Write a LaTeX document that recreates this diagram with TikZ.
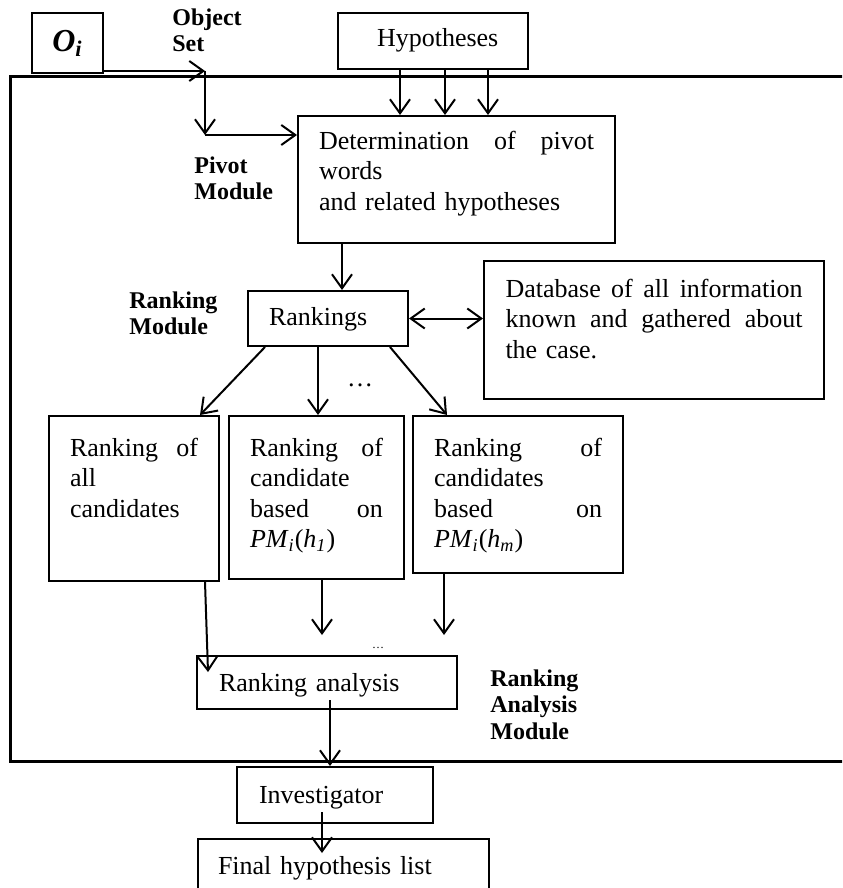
\documentclass[tikz,border=0pt]{standalone}
\usepackage{fontspec}
\setmainfont{Liberation Serif}
\usetikzlibrary{arrows.meta}

\begin{document}
\begin{tikzpicture}[x=0.5pt,y=-0.5pt,
  box/.style={draw,line width=1pt,anchor=north west,inner ysep=0pt,inner xsep=10.5pt,
    align=left,font=\fontsize{13}{15.3}\selectfont},
  lbl/.style={anchor=north west,inner sep=0pt,align=left,font=\fontsize{12}{13.4}\selectfont\bfseries},
  arr/.style={line width=1pt,-{Straight Barb[length=7pt,width=10pt]}},
  dblarr/.style={line width=1pt,{Straight Barb[length=7pt,width=10pt]}-{Straight Barb[length=7pt,width=10pt]}}]

  \useasboundingbox (0,0) rectangle (842,888);
  \clip (0,0) rectangle (842,888);

  % outer frame
  \draw[line width=1.5pt] (10,77) rectangle (870,761);

  \node[draw,line width=1pt,anchor=north west,minimum width=35.5pt,minimum height=30pt,inner sep=0pt,
    font=\fontsize{16}{16}\selectfont\bfseries\itshape] (oi) at (31,12) {O\textsubscript{i}};
  \node[box,text width=56pt,inner xsep=19.5pt,text height=17pt,text depth=11pt] (hyp) at (337,12) {Hypotheses};
  \node[box,text width=137.5pt,text height=16.5pt,text depth=47pt] (det) at (297,115)
    {Determination \hfill of \hfill pivot\\words\\and related hypotheses};
  \node[box,text width=59pt,text height=17pt,text depth=10.5pt] (rank) at (247,290) {Rankings};
  \node[box,text width=148.5pt,inner xsep=10.75pt,text height=18pt,text depth=51pt] (db) at (483,260)
    {Database \hfill of \hfill all \hfill information\\known \hfill and \hfill gathered \hfill about\\the case.};
  \node[box,text width=64pt,text height=20pt,text depth=62.5pt] (all) at (48,415)
    {Ranking \hfill of\\all\\candidates};
  \node[box,text width=66.5pt,text height=20pt,text depth=61.5pt] (mid) at (228,415)
    {Ranking \hfill of\\candidate\\based \hfill on\\\textit{PM}\textsubscript{\textit{i}}(\textit{h}\textsubscript{\textit{1}})};
  \node[box,text width=84pt,text height=20pt,text depth=58.5pt] (rgt) at (412,415)
    {Ranking \hfill of\\candidates\\based \hfill on\\\textit{PM}\textsubscript{\textit{i}}(\textit{h}\textsubscript{\textit{m}})};
  \node[box,text width=108pt,inner xsep=11pt,text height=17.5pt,text depth=9pt] (ana) at (196,655) {Ranking analysis};
  \node[box,text width=76pt,inner xsep=11pt,text height=18pt,text depth=10pt] (inv) at (236,766) {Investigator};
  \node[box,text width=125.5pt,inner xsep=10pt,text height=17.5pt,text depth=20pt] (fin) at (197,838) {Final hypothesis list};

  \node[lbl] (objset) at (172,8) {Object\\Set};
  \node[lbl] (pivmod) at (194,156) {Pivot\\Module};
  \node[lbl] (rankmod) at (129,291) {Ranking\\Module};
  \node[lbl] (anamod) at (490,669) {Ranking\\Analysis\\Module};

  \node[font=\fontsize{13}{13}\selectfont] (dots) at (360,385) {\ldots};
  \node[font=\fontsize{6}{6}\selectfont] (dotsb) at (378,648) {\ldots};

  \coordinate (os) at (205,71);
  \coordinate (pv) at (205,135);
  \coordinate (ain) at (208,672);
  \coordinate (mend) at (322,635);
  \coordinate (rend) at (444,635);
  \coordinate (aout) at (330,700);
  \coordinate (iout) at (322,812);
  \coordinate (fend) at (322,853);

  \draw[arr] (oi.east |- os) -- (os);
  \draw[arr] (os) -- (pv);
  \draw[arr] (pv) -- (det.west |- pv);
  \draw[arr] (hyp.south -| 400,0) -- (det.north -| 400,0);
  \draw[arr] (hyp.south -| 445,0) -- (det.north -| 445,0);
  \draw[arr] (hyp.south -| 488,0) -- (det.north -| 488,0);
  \draw[arr] (det.south -| 342,0) -- (rank.north -| 342,0);
  \draw[dblarr] (rank.east) -- (db.west |- rank.east);
  \draw[arr] (rank.south -| 265,0) -- (all.north -| 200,0);
  \draw[arr] (rank.south -| 318,0) -- (mid.north -| 318,0);
  \draw[arr] (rank.south -| 390,0) -- (rgt.north -| 447,0);
  \draw[arr] (all.south -| 205,0) -- (ain);
  \draw[arr] (mid.south -| mend) -- (mend);
  \draw[arr] (rgt.south -| rend) -- (rend);
  \draw[arr] (aout) -- (inv.north -| aout);
  \draw[arr] (iout) -- (fend);
\end{tikzpicture}
\end{document}
